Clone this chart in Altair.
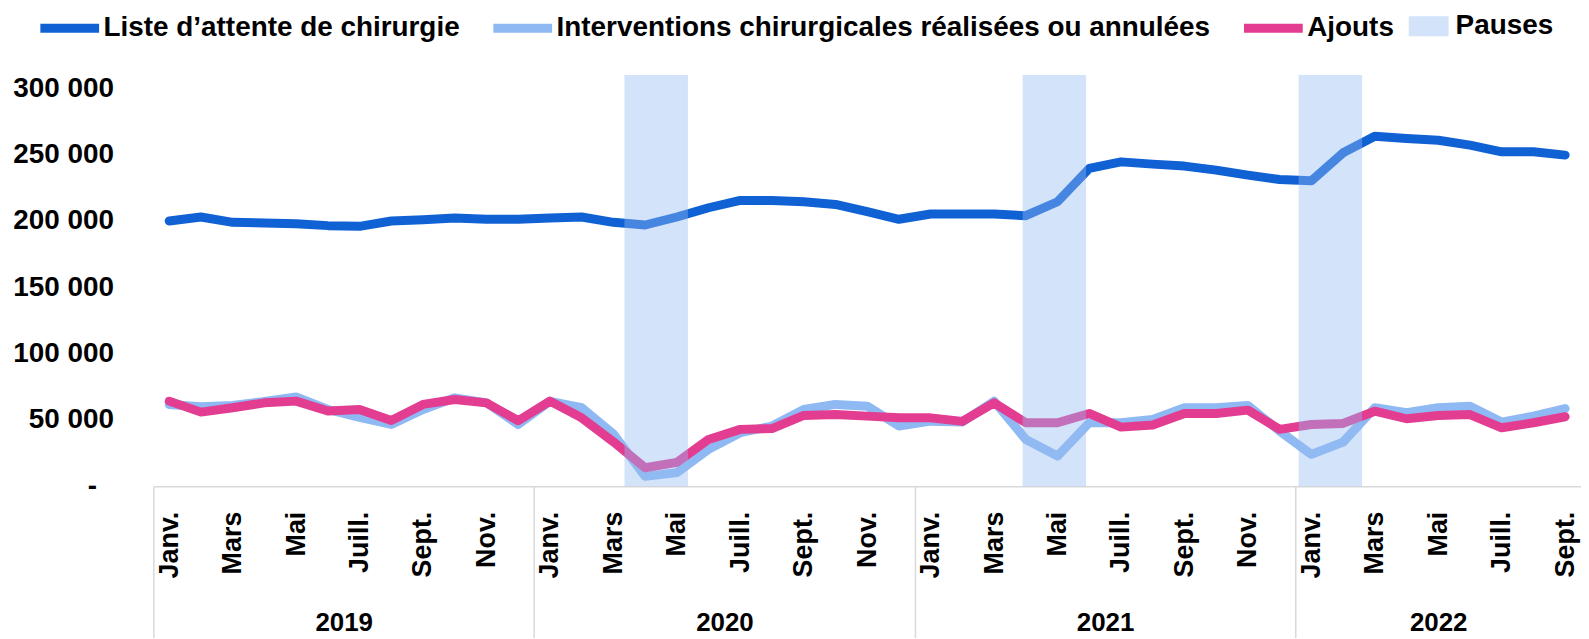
import altair as alt
import pandas as pd

# ---- data ----
months_fr = ["Janv.", "Févr.", "Mars", "Avr.", "Mai", "Juin",
             "Juill.", "Août", "Sept.", "Oct.", "Nov.", "Déc."]
years = ["2019", "2020", "2021", "2022"]
n_months = 45  # Janv. 2019 -> Sept. 2022

liste = [200000, 203000, 199000, 198500, 198000, 196500, 196000, 200000, 201000, 202300, 201300, 201300,
         202300, 203000, 199000, 197000, 203000, 210000, 215500, 215500, 214500, 212500, 207000, 201300,
         205300, 205300, 205300, 204000, 214500, 239600, 244600, 242900, 241400, 238400, 234600, 231300,
         230300, 251400, 263900, 262200, 260900, 257200, 252200, 252200, 249700]
interventions = [61700, 60000, 61000, 64000, 67400, 57900, 51900, 46600, 57900, 66700, 62900, 46600,
                 64000, 59200, 39500, 7500, 10300, 27800, 40400, 45400, 57900, 61700, 60400, 45400,
                 49100, 48400, 64200, 35300, 22800, 47900, 47900, 50400, 59200, 59200, 60900, 41600,
                 24100, 33300, 59200, 55400, 59200, 60400, 48400, 52900, 58600]
ajouts = [64200, 55900, 59200, 62900, 64200, 56700, 57900, 49600, 61700, 65400, 62900, 49400,
          64200, 51600, 33500, 14000, 18000, 35300, 42900, 43500, 53400, 54100, 52900, 51600,
          51600, 48900, 62900, 47900, 47900, 54900, 44600, 46200, 54900, 54900, 57400, 42900,
          46600, 47400, 56600, 50900, 53400, 54100, 44100, 47900, 52400]

series_names = ["Liste d’attente de chirurgie",
                "Interventions chirurgicales réalisées ou annulées",
                "Ajouts"]
series_colors = ["#1062d4", "#8fb9f3", "#e33d92"]

pause_label = "Pauses"
pause_start = [14.85, 27.4, 36.1]   # in months from Janv. 2019
pause_end = [16.85, 29.4, 38.1]
pause_color = "#94baf1"

y_max = 310000
y_ticks = [0, 50000, 100000, 150000, 200000, 250000, 300000]

# ---- tables ----
rows = []
for name, vals in zip(series_names, [liste, interventions, ajouts]):
    for i, v in enumerate(vals):
        rows.append({"pos": i + 0.5, "serie": name, "valeur": v})
df = pd.DataFrame(rows)

pauses = pd.DataFrame({"debut": pause_start, "fin": pause_end,
                       "bas": [0] * len(pause_start), "haut": [y_max] * len(pause_start),
                       "label": [pause_label] * len(pause_start)})

month_ticks = [i + 0.5 for i in range(0, n_months, 2)]
year_centers = []
for k in range(len(years)):
    first = k * 12
    last = min(n_months, (k + 1) * 12)
    year_centers.append((first + last) / 2)
year_bounds = [k * 12 for k in range(len(years))]

FONT = "Liberation Sans, Arial, sans-serif"

months_js = "[" + ",".join("'" + m + "'" for m in months_fr) + "]"
years_js = "[" + ",".join("'" + y + "'" for y in years) + "]"

x_scale = alt.Scale(domain=[0, n_months], nice=False, zero=False)
y_scale = alt.Scale(domain=[0, y_max], nice=False)
color_scale = alt.Scale(domain=series_names, range=series_colors)

color_legend = alt.Legend(title=None, orient="none", legendX=-118, legendY=-81,
                          direction="horizontal", symbolType="stroke", symbolSize=3481,
                          symbolStrokeWidth=9, labelFont=FONT, labelFontSize=28,
                          labelFontWeight="bold", labelColor="black", columnPadding=15,
                          labelOffset=0, symbolOffset=0, labelLimit=0)

month_axis = alt.Axis(orient="bottom", values=month_ticks,
                      labelExpr=months_js + "[floor(datum.value) % 12]",
                      labelAngle=270, labelFont=FONT, labelFontSize=27, labelFontWeight="bold",
                      labelColor="black", labelPadding=25, ticks=False, tickSize=0,
                      domain=True, domainColor="#d9d9d9", domainWidth=1.5, grid=False,
                      title=None, labelOverlap=False, labelFlush=False, labelBound=False)
year_axis = alt.Axis(orient="bottom", values=year_centers,
                     labelExpr=years_js + "[floor(datum.value / 12)]",
                     labelAngle=0, labelFont=FONT, labelFontSize=26, labelFontWeight="bold",
                     labelColor="black", labelPadding=124, labelBaseline="top",
                     ticks=False, tickSize=0, domain=False, grid=False, title=None,
                     labelOverlap=False, labelFlush=False, labelBound=False)
sep_axis = alt.Axis(orient="bottom", values=year_bounds, labels=False, ticks=True,
                    tickSize=152, tickColor="#d9d9d9", tickWidth=1.5, domain=False,
                    grid=False, title=None)
y_axis = alt.Axis(values=y_ticks, title=None, grid=False, ticks=False, domain=False,
                  labelFont=FONT, labelFontSize=28, labelFontWeight="bold", labelColor="black",
                  labelPadding={"condition": {"test": "datum.value == 0", "value": 57}, "value": 40},
                  labelExpr="datum.value == 0 ? '-' : format(datum.value / 1000, 'd') + ' 000'")


def line_layer(name, x_axis):
    return alt.Chart(df).transform_filter(alt.datum.serie == name).mark_line(
        strokeWidth=9, strokeCap="round", strokeJoin="round"
    ).encode(
        x=alt.X("pos:Q", scale=x_scale, axis=x_axis),
        y=alt.Y("valeur:Q", scale=y_scale, axis=y_axis),
        color=alt.Color("serie:N", scale=color_scale, legend=color_legend),
    )


l_liste = line_layer(series_names[0], month_axis)
l_inter = line_layer(series_names[1], year_axis)
l_ajouts = line_layer(series_names[2], sep_axis)

pause_layer = alt.Chart(pauses).mark_rect(opacity=0.41).encode(
    x=alt.X("debut:Q", scale=x_scale, axis=None),
    x2="fin:Q",
    y=alt.Y("bas:Q", scale=y_scale, axis=y_axis),
    y2="haut:Q",
    fill=alt.Fill("label:N", scale=alt.Scale(domain=[pause_label], range=[pause_color]),
                  legend=alt.Legend(title=None, orient="none", legendX=1261, legendY=-69,
                                    symbolType="M-1,-0.5H1V0.5H-1Z", symbolSize=1600,
                                    symbolOpacity=0.41, symbolStrokeWidth=0,
                                    labelFont=FONT, labelFontSize=28, labelFontWeight="bold",
                                    labelColor="black", labelOffset=7, labelLimit=0)),
)

chart = alt.layer(l_liste, l_inter, l_ajouts, pause_layer).resolve_axis(
    x="independent"
).properties(
    width=1434, height=413,
    autosize=alt.AutoSizeParams(type="none"),
    padding={"left": 146, "top": 66, "right": 0, "bottom": 152},
).configure_view(stroke=None)

chart.save("out.html", embed_options={"renderer": "svg", "actions": False})
